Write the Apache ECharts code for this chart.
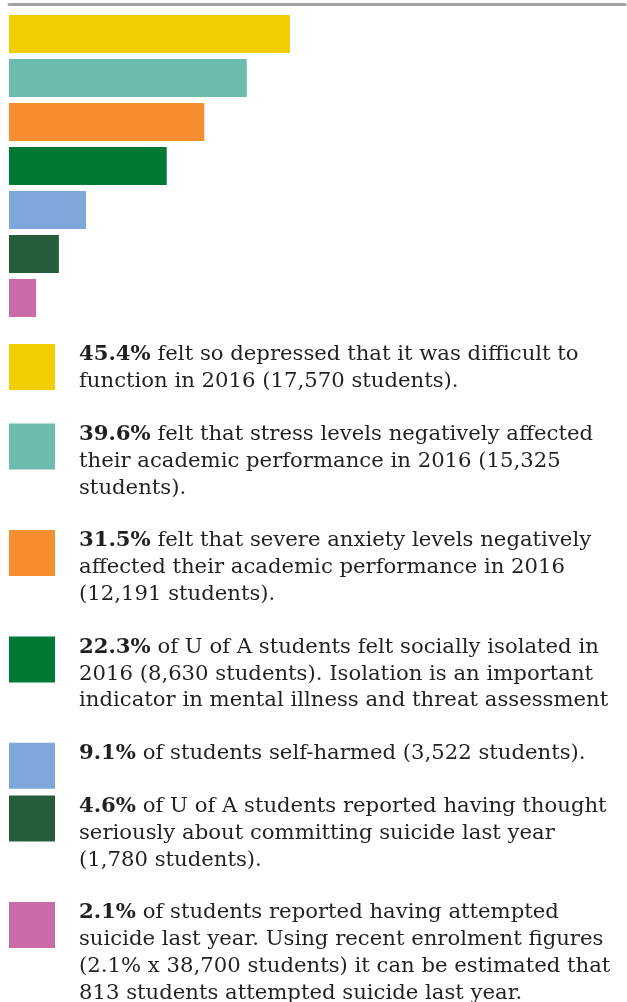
<!DOCTYPE html>
<html>
<head>
<meta charset="utf-8">
<script src="https://cdn.jsdelivr.net/npm/echarts@6/dist/echarts.min.js"></script>
<style>
  html, body { margin: 0; padding: 0; background: #fff; }
  #chart { width: 627px; height: 1002px; }
</style>
</head>
<body>
<div id="chart"></div>
<script>
  var categories = ['Depressed', 'Stress', 'Anxiety', 'Isolated', 'Self-harm', 'Thought of suicide', 'Attempted suicide'];
  var pctLabels = ['45.4%', '39.6%', '31.5%', '22.3%', '9.1%', '4.6%', '2.1%'];
  // bar lengths as they are drawn in the graphic (0-100 axis), not strictly to scale with the labels
  var barLength = [45.6, 38.6, 31.7, 25.6, 12.5, 8.1, 4.4];
  var colors = ['#f2cd00', '#6cbcad', '#f68e31', '#007934', '#7ea6db', '#265d3a', '#c96ba8'];
  var descLines = [
    [' felt so depressed that it was difficult to', 'function in 2016 (17,570 students).'],
    [' felt that stress levels negatively affected', 'their academic performance in 2016 (15,325', 'students).'],
    [' felt that severe anxiety levels negatively', 'affected their academic performance in 2016', '(12,191 students).'],
    [' of U of A students felt socially isolated in', '2016 (8,630 students). Isolation is an important', 'indicator in mental illness and threat assessment'],
    [' of students self-harmed (3,522 students).'],
    [' of U of A students reported having thought', 'seriously about committing suicide last year', '(1,780 students).'],
    [' of students reported having attempted', 'suicide last year. Using recent enrolment figures', '(2.1% x 38,700 students) it can be estimated that', '813 students attempted suicide last year.']
  ];

  var FONT = '"DejaVu Serif", serif';
  var FS = 21.2;
  var LH = 26.8;

  var myChart = echarts.init(document.getElementById('chart'));

  // key list below the bars
  function buildKeys() {
    var keys = [];
    var keyTop = 344;
    descLines.forEach(function (lines, i) {
      var txt = '{b|' + pctLabels[i] + '}{n|' + lines[0] + '}';
      for (var k = 1; k < lines.length; k++) {
        txt += '\n{n|' + lines[k] + '}';
      }
      keys.push({
        type: 'rect',
        shape: { x: 9, y: keyTop, width: 46, height: 46 },
        style: { fill: colors[i] }
      });
      keys.push({
        type: 'text',
        x: 79,
        y: keyTop - 2.5,
        style: {
          text: txt,
          verticalAlign: 'top',
          fill: '#231f20',
          rich: {
            b: { fontFamily: FONT, fontSize: FS, fontWeight: 'bold', lineHeight: LH, color: '#231f20' },
            n: { fontFamily: FONT, fontSize: FS, lineHeight: LH, color: '#2b2829' }
          }
        }
      });
      keyTop += lines.length * LH + 26;
    });
    return keys;
  }

  var option = {
    animation: false,
    grid: { left: 9, right: 2, top: 12, height: 308 },
    xAxis: {
      type: 'value',
      position: 'top',
      min: 0,
      max: 100,
      offset: 8,
      axisLine: { show: true, lineStyle: { color: '#a3a3a6', width: 3 } },
      axisTick: { show: false },
      axisLabel: { show: false },
      splitLine: { show: false }
    },
    yAxis: {
      type: 'category',
      data: categories,
      inverse: true,
      show: false
    },
    series: [{
      type: 'bar',
      barWidth: 38,
      data: barLength.map(function (v, i) {
        return { value: v, itemStyle: { color: colors[i] } };
      })
    }],
    graphic: buildKeys()
  };

  myChart.setOption(option);
</script>
</body>
</html>
